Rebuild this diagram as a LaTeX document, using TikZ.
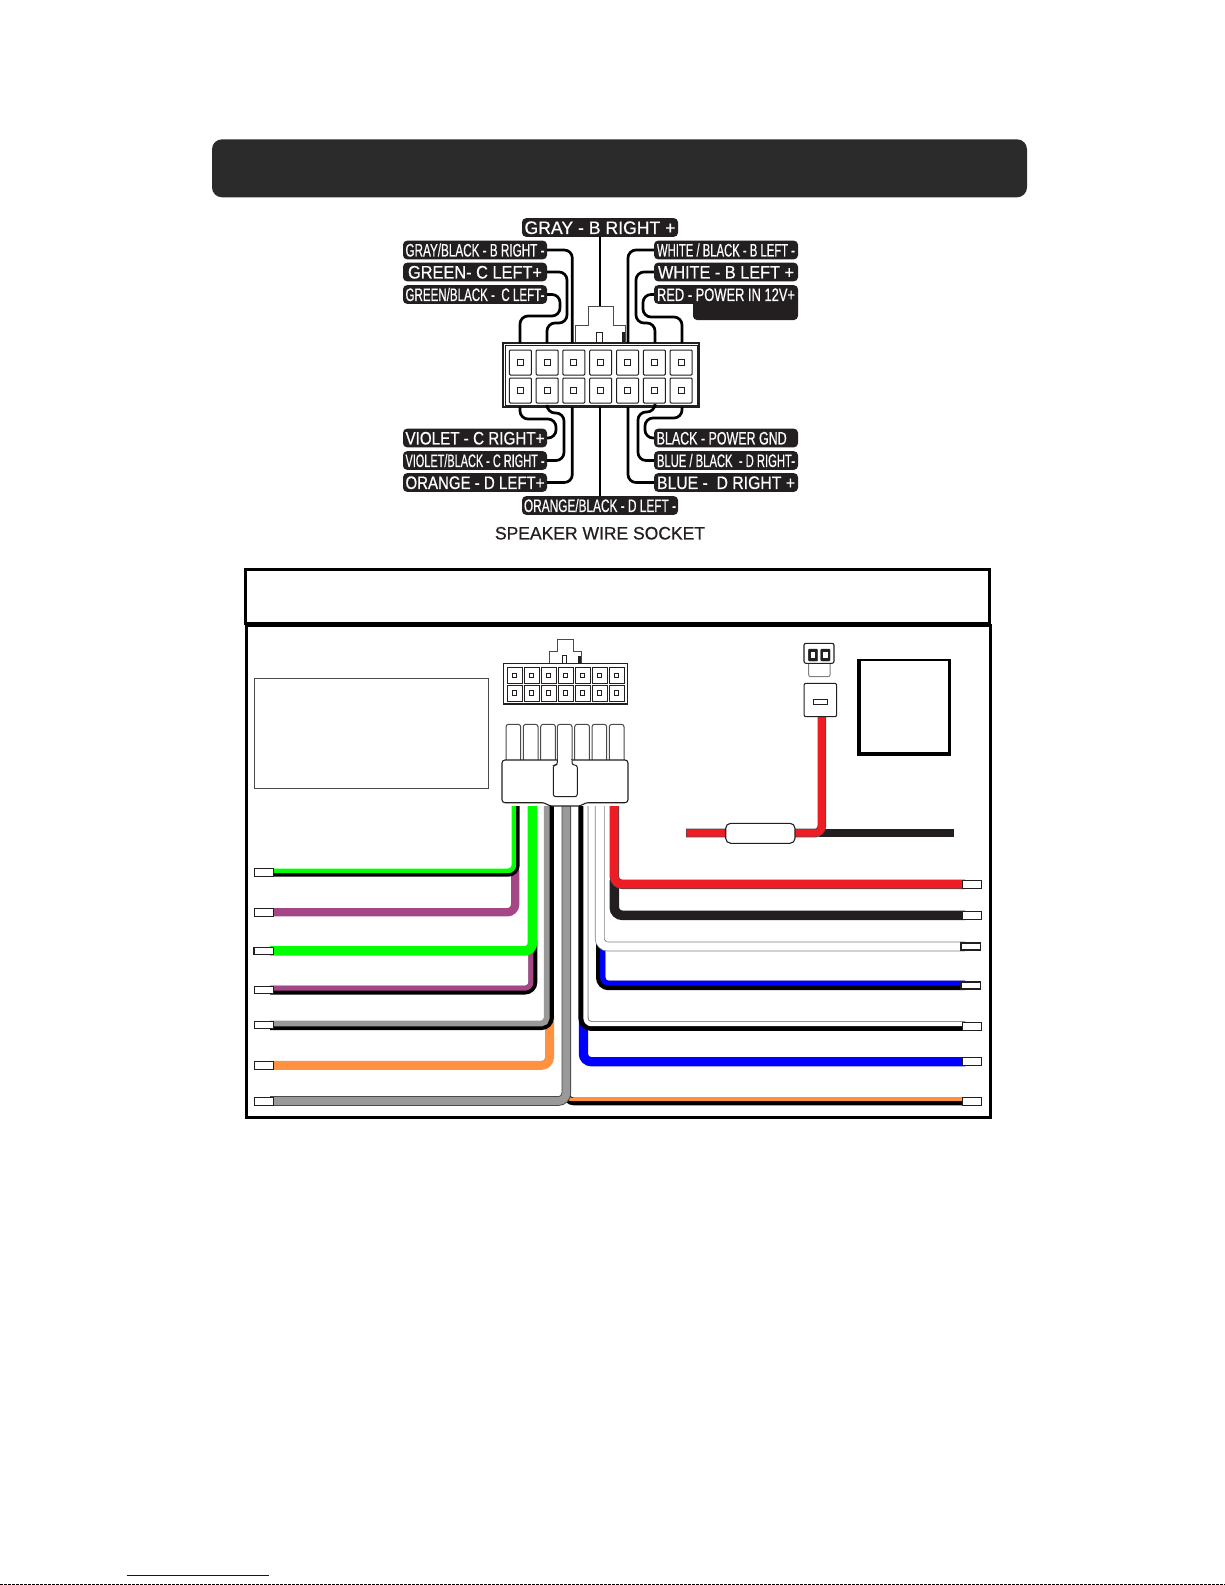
\documentclass[tikz,border=0pt]{standalone}
\usepackage{fontspec}
\usepackage{graphicx}
\setmainfont{Liberation Sans}
\newfontfamily\labfont[FakeBold=0.7]{Liberation Sans}
\definecolor{ink}{HTML}{231F20}
\definecolor{hdr}{HTML}{2B2B2B}
\definecolor{wgreen}{HTML}{00FF00}
\definecolor{wviolet}{HTML}{A54686}
\definecolor{wgray}{HTML}{999999}
\definecolor{worange}{HTML}{FF9240}
\definecolor{wred}{HTML}{EE1C25}
\definecolor{wblue}{HTML}{0000FF}
\definecolor{edge}{HTML}{4A4A4A}
\definecolor{linkblue}{HTML}{0000CC}
\tikzset{
  lab/.style={fill=ink,text=white,rounded corners=4pt,inner sep=0pt,minimum height=18.6pt},
  sw/.style={draw=black,line width=2.7pt,rounded corners=8pt},
  body/.style={draw=edge,fill=white,line width=1.1pt},
  stub/.style={draw=ink,fill=white},
  frame/.style={draw=black,line width=3pt}
}
\newcommand\fit[2]{\resizebox{#1pt}{12.9pt}{\rule{0pt}{12.9pt}\smash{\fontsize{18}{18}\labfont #2}}}
% \wirel{colour}{x}{ystart}{y}{xend}{width}{radius}
\newcommand\wirel[7]{\draw[line width=#6pt,draw=#1,rounded corners=#7pt] (#2,#3) -- (#2,#4) -- (#5,#4);}
\begin{document}
\begin{tikzpicture}[x=1pt,y=-1pt]
\useasboundingbox (0,0) rectangle (1225,1585);
\fill[hdr,rounded corners=10pt] (212,139.3) rectangle (1027,197.3);

% ---- speaker socket: labels
\fill[ink,rounded corners=4pt] (693,295) rectangle (798,320);
\node[lab,minimum width=156pt] (ltop) at (600,227.5) {\fit{151}{GRAY - B RIGHT +}};
\node[lab,minimum width=144pt] (la) at (475,250) {\fit{139}{GRAY/BLACK - B RIGHT -}};
\node[lab,minimum width=144pt] (lb) at (475,272) {\fit{134}{GREEN- C LEFT+}};
\node[lab,minimum width=144pt] (lc) at (475,294.5) {\fit{139}{GREEN/BLACK -\ \ C LEFT-}};
\node[lab,minimum width=144pt] (ra) at (726,250) {\fit{138}{WHITE / BLACK - B LEFT -}};
\node[lab,minimum width=144pt] (rb) at (726,272) {\fit{136}{WHITE - B LEFT +}};
\node[lab,minimum width=144pt] (rc) at (726,294.5) {\fit{138}{RED - POWER IN 12V+}};
\node[lab,minimum width=144pt] (ld) at (475,438) {\fit{139}{VIOLET - C RIGHT+}};
\node[lab,minimum width=144pt] (le) at (475,460.5) {\fit{139}{VIOLET/BLACK - C RIGHT -}};
\node[lab,minimum width=144pt] (lf) at (475,482.5) {\fit{139}{ORANGE - D LEFT+}};
\node[lab,minimum width=144pt] (rd) at (726,438) {\fit{130}{BLACK - POWER GND}\hspace*{8.6pt}};
\node[lab,minimum width=144pt] (re) at (726,460.5) {\fit{138}{BLUE / BLACK\ \ - D RIGHT-}};
\node[lab,minimum width=144pt] (rf) at (726,482.5) {\fit{138}{BLUE -\ \ D RIGHT +}};
\node[lab,minimum width=156pt] (lbot) at (600,505.5) {\fit{152}{ORANGE/BLACK - D LEFT -}};
\node[inner sep=0pt,text=ink] (cap) at (600,533) {\fit{210}{SPEAKER WIRE SOCKET}};

% ---- speaker socket: latch and body
\draw[edge,fill=white,line width=1pt] (575,343) -- (575,325) -- (588,325) -- (588,306) -- (613,306) -- (613,325) -- (625,325) -- (625,343);
\draw[draw=ink,fill=white,line width=1pt] (596,343) -- (596,332) -- (602,332) -- (602,343);
\fill[ink] (622,332) rectangle (625,343);
\draw[draw=ink,fill=white,line width=1.2pt] (503,343) rectangle (699,407);
\draw[draw=ink,line width=.6pt] (505,345) rectangle (697,405);
\foreach \i in {0,...,6}{
  \pgfmathsetmacro\xx{509.3+26.8*\i}
  \pgfmathsetmacro\xy{\xx+22}
  \pgfmathsetmacro\xa{\xx+8}
  \pgfmathsetmacro\xb{\xx+14}
  \draw[draw=ink,line width=1pt,rounded corners=1pt] (\xx,350) rectangle (\xy,375);
  \draw[draw=ink,line width=1pt,rounded corners=1pt] (\xx,378) rectangle (\xy,403);
  \draw[draw=ink,line width=1pt] (\xa,359.5) rectangle (\xb,365.5);
  \draw[draw=ink,line width=1pt] (\xa,387.5) rectangle (\xb,393.5);
}
% pins on the socket
\coordinate (p1) at (520,343);\coordinate (p2) at (547,343);\coordinate (p3) at (572.3,343);
\coordinate (p0) at (600,306);
\coordinate (p5) at (628,343);\coordinate (p6) at (655,343);\coordinate (p7) at (682,343);
\coordinate (q1) at (520,407);\coordinate (q2) at (547,407);\coordinate (q3) at (572.3,407);
\coordinate (q4) at (600,407);
\coordinate (q5) at (628,407);\coordinate (q6) at (655,407);\coordinate (q7) at (682,407);

% ---- speaker socket: wires
\draw[sw] (ltop) -- (p0);
\draw[sw] (lbot) -- (q4);
\draw[sw] (la.east) -| (p3);
\draw[sw] (lb.east) -- (567,272) -- (567,323) -- (547,323) -- (p2);
\draw[sw] (lc.east) -- (560,294.5) -- (560,316) -- (520,316) -- (p1);
\draw[sw] (ra.west) -| (p5);
\draw[sw] (rb.west) -- (636,272) -- (636,323) -- (655,323) -- (p6);
\draw[sw] (rc.west) -- (643,294.5) -- (643,317) -- (682,317) -- (p7);
\draw[sw] (q1) -- (520,419) -- (556,419) -- (556,438) -- (ld.east);
\draw[sw] (q2) -- (547,413) -- (564,413) -- (564,460.5) -- (le.east);
\draw[sw] (lf.east) -| (q3);
\draw[sw] (q5) |- (rf.west);
\draw[sw] (q6) -- (655,412) -- (638,412) -- (638,460.5) -- (re.west);
\draw[sw] (q7) -- (682,418) -- (645,418) -- (645,438) -- (rd.west);

% ---- wiring panel frames
\draw[frame] (245.5,569.5) rectangle (989,623.5);
\draw[frame] (246,625) rectangle (990,1117);
\draw[draw=edge,line width=1pt] (254.3,678.3) rectangle (488.3,788.3);

% ---- small socket
\draw[edge,fill=white,line width=1pt] (549.3,663.3) -- (549.3,651) -- (557.3,651) -- (557.3,639) -- (573.3,639) -- (573.3,651) -- (581.3,651) -- (581.3,663.3);
\draw[draw=ink,fill=white,line width=1pt] (562.7,663.3) -- (562.7,655.7) -- (566.7,655.7) -- (566.7,663.3);
\fill[ink] (578.3,656) rectangle (581.3,663.3);
\draw[draw=ink,fill=white,line width=1.1pt] (503.3,663.3) rectangle (627.3,704);
\foreach \i in {0,...,6}{
  \pgfmathsetmacro\xx{507.3+17*\i}
  \pgfmathsetmacro\xy{\xx+14.7}
  \pgfmathsetmacro\xa{\xx+5.1}
  \pgfmathsetmacro\xb{\xx+9.5}
  \draw[draw=ink,line width=.8pt] (\xx,667.3) rectangle (\xy,683.3);
  \draw[draw=ink,line width=.8pt] (\xx,685) rectangle (\xy,701);
  \draw[draw=ink,line width=.8pt] (\xa,673.2) rectangle (\xb,677.5);
  \draw[draw=ink,line width=.8pt] (\xa,690.8) rectangle (\xb,695.1);
}

% ---- harness wires, left
\wirel{wviolet}{515.2}{870}{912.3}{270}{8.3}{8}
\wirel{black}{516}{806}{873}{270}{7.4}{8}
\wirel{wgreen}{513.85}{806}{870.8}{270}{4.6}{5.8}
\wirel{black}{533}{940}{990.2}{270}{8.6}{8}
\wirel{wviolet}{530.8}{940}{988.2}{270}{5}{5.9}
\wirel{wgreen}{532.5}{806}{950.9}{270}{9.6}{8}
\wirel{worange}{549.5}{1015}{1065.3}{270}{9}{8}
\wirel{black}{549.4}{806}{1025.6}{270}{8.8}{8}
\wirel{wgray}{546.7}{806}{1023.5}{270}{5.8}{5.5}
\wirel{black}{566}{1085}{1101.5}{965}{7.6}{8}
\wirel{worange}{566}{1085}{1099.4}{965}{3.3}{5.9}
\wirel{edge}{566.3}{806}{1101}{270}{9.6}{8}
\wirel{wgray}{566.3}{806}{1101}{270}{7.8}{8}
% ---- harness wires, right
\wirel{wblue}{583.4}{1015}{1061.7}{965}{9.3}{8}
\wirel{black}{583.3}{806}{1026}{965}{9.8}{8}
\wirel{white}{585.8}{806}{1023.8}{965}{4.8}{5.7}
\wirel{gray}{588}{806}{1021.6}{965}{.6}{3.4}
\wirel{black}{600.7}{940}{985.5}{965}{9.4}{8}
\wirel{wblue}{602.7}{940}{983.2}{965}{5}{5.9}
\wirel{gray}{599.7}{806}{946.5}{965}{9.6}{8}
\wirel{white}{599.7}{806}{946.5}{965}{8.2}{8}
\wirel{ink}{614.3}{880}{915.3}{965}{9.6}{8}
\wirel{edge}{614.3}{806}{884.3}{965}{9.4}{8}
\wirel{wred}{614.3}{806}{884.3}{965}{8.2}{8}

% ---- harness plug
\foreach \x in {506,523.3,540.7,557.3,574.7,592,609.3}{
  \draw[edge,fill=white,line width=1pt,rounded corners=2.5pt] (\x,762) -- (\x,724.3) -- (\x+14.7,724.3) -- (\x+14.7,762);
}
\draw[draw=ink,fill=white,line width=1.1pt,rounded corners=3pt] (502,802.7) -- (502,760) -- (628,760) -- (628,802.7) -- (585,802.7) -- (581,806) -- (549,806) -- (545,802.7) -- cycle;
\draw[draw=ink,fill=white,line width=1pt,rounded corners=2.5pt] (557.3,760) -- (557.3,765) -- (553.3,765) -- (553.3,796.7) -- (577.3,796.7) -- (577.3,765) -- (572,765) -- (572,760);
\fill[white] (558,758) rectangle (571.4,766.2);

% ---- wire ends
\foreach \xl/\yl/\hl/\lw in {254/872.5/8/1,254/912.3/8/1,254/951/7.6/1.2,254/989.8/7.4/1,254/1025/7.5/1,254/1065.4/8/1,254/1101/8/1,
                         962/884.3/8/1,962/915.3/8/1,961/946.5/7.4/1.6,961/985.5/7.4/1.8,962/1026/8/1,962/1061.7/8/1.2,962/1101.5/8/1}{
  \draw[stub,line width=\lw pt] (\xl,\yl-\hl/2) rectangle (\xl+19.5,\yl+\hl/2);
}

% ---- power wire and fuse
\draw[line width=8.6pt,draw=ink] (819,833) -- (954.3,833);
\draw[line width=8.6pt,draw=edge,rounded corners=7pt] (821.8,716.7) -- (821.8,833) -- (686,833);
\draw[line width=7.2pt,draw=wred,rounded corners=7pt] (821.8,716.7) -- (821.8,833) -- (686.7,833);
\draw[draw=ink,fill=white,line width=1.1pt,rounded corners=5pt] (725.7,823.3) rectangle (795,843.3);
\draw[draw=ink,fill=white,line width=1pt,rounded corners=2pt] (804,683.3) rectangle (836.7,716.7);
\draw[draw=ink,line width=1.2pt] (813.3,699.3) rectangle (827.7,704.7);
\draw[draw=gray,fill=white,line width=1pt,rounded corners=2pt] (808.7,660) -- (808.7,676.7) -- (830,676.7) -- (830,660);
\draw[draw=ink,fill=white,line width=1.1pt,rounded corners=2pt] (804,643.3) rectangle (834,663.3);
\draw[fill=ink,draw=ink,rounded corners=1pt] (808.3,649) rectangle (817.7,661);
\draw[fill=ink,draw=ink,rounded corners=1pt] (820.7,649) rectangle (830,661);
\fill[white] (811,652.3) rectangle (815.3,658.3);
\fill[white] (823.3,652.3) rectangle (827.5,658.3);

% ---- square
\fill[black] (857.3,659) rectangle (950.7,755.7);
\fill[white] (860.7,661) rectangle (948.7,752.3);
\draw[draw=black,line width=.5pt] (947.8,661) -- (947.8,752.3);

% ---- page foot
\draw[draw=linkblue,line width=1pt] (126.7,1575) -- (268.7,1575);
\draw[draw=black,line width=1.4pt,dash pattern=on 3pt off 1pt] (0,1584.4) -- (1225,1584.4);
\end{tikzpicture}
\end{document}
